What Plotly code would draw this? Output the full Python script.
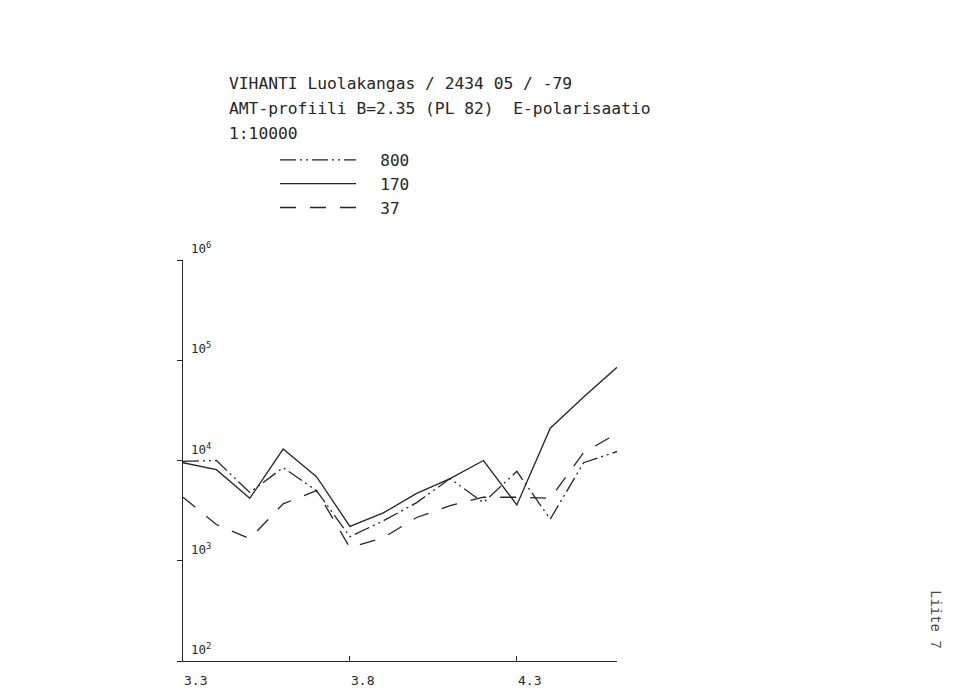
import plotly.graph_objects as go

# Positions along the profile (x axis units as printed on the chart)
x_vals = [3.3, 3.4, 3.5, 3.6, 3.7, 3.8, 3.9, 4.0, 4.1, 4.2, 4.3, 4.4, 4.5, 4.6]

# Apparent resistivity values (ohm-m), per frequency
rho_800 = [9800, 10000, 4800, 8500, 5000, 1740, 2500, 3800, 6600, 3800, 7800, 2600, 9500, 12300]
rho_170 = [9500, 8100, 4200, 13000, 6900, 2200, 3000, 4700, 6600, 10000, 3600, 21000, 43000, 85000]
rho_37 = [4300, 2300, 1660, 3700, 5000, 1350, 1700, 2700, 3550, 4300, 4300, 4200, 12000, 18600]

series_names = ["800", "170", "37"]

x_tick_vals = [3.3, 3.8, 4.3]
x_tick_text = ["3.3", "3.8", "4.3"]
y_tick_exps = [2, 3, 4, 5, 6]
y_tick_text = ["10<sup>2</sup>", "10<sup>3</sup>", "10<sup>4</sup>", "10<sup>5</sup>", "10<sup>6</sup>"]

title_lines = [
    "VIHANTI Luolakangas / 2434 05 / -79",
    "AMT-profiili B=2.35 (PL 82)  E-polarisaatio",
    "1:10000",
]

INK = "#262626"
MONO = "DejaVu Sans Mono"

# page body has an 8px margin, so the plot box is offset accordingly
PL, PT, PW, PH = 183, 260, 434, 401   # target screen box of the plot area


def px_to_paper_x(px):
    return (px - PL) / PW


def py_to_paper_y(py):
    return 1 + (PT - py) / PH


fig = go.Figure()
dashes = ["16px,4px,2px,4px,2px,4px", "solid", "16px,14px"]
for name, ys, dash in zip(series_names, [rho_800, rho_170, rho_37], dashes):
    fig.add_trace(go.Scatter(
        x=x_vals, y=ys, mode="lines", name="  " + name, legendgroup=name,
        line=dict(color=INK, width=1.3, dash=dash),
    ))

fig.update_layout(
    width=959, height=693,
    margin=dict(l=PL - 8, r=959 - PL - PW + 8, t=PT - 8, b=693 - PT - PH + 8, autoexpand=False),
    paper_bgcolor="white", plot_bgcolor="white",
    font=dict(family=MONO, color=INK),
    showlegend=True,
    legend=dict(
        x=px_to_paper_x(275), y=py_to_paper_y(143), xanchor="left", yanchor="top",
        font=dict(family=MONO, size=16, color=INK),
        itemwidth=76, tracegroupgap=3, bgcolor="rgba(0,0,0,0)",
        traceorder="normal",
    ),
    xaxis=dict(
        range=[3.3, 4.6], showgrid=False, zeroline=False,
        showline=True, linecolor=INK, linewidth=1.2,
        tickvals=x_tick_vals, showticklabels=False,
        ticks="inside", ticklen=5, tickcolor=INK, tickwidth=1.2,
    ),
    yaxis=dict(
        type="log", range=[2, 6], showgrid=False, zeroline=False,
        showline=True, linecolor=INK, linewidth=1.2,
        tickvals=[10 ** e for e in y_tick_exps], showticklabels=False,
        ticks="outside", ticklen=5, tickcolor=INK, tickwidth=1.2,
    ),
)

# x tick labels: left-aligned at the tick, below the axis
for v, t in zip(x_tick_vals, x_tick_text):
    fig.add_annotation(
        text=t, xref="x", yref="paper", x=v, y=0, xanchor="left", yanchor="middle",
        yshift=-19, xshift=-1, showarrow=False,
        font=dict(family=MONO, size=13, color=INK),
    )

# y tick labels: inside the plot, just above each decade tick
for e, t in zip(y_tick_exps, y_tick_text):
    fig.add_annotation(
        text=t, xref="paper", yref="y", x=px_to_paper_x(189), y=e,
        xanchor="left", yanchor="bottom", yshift=2, showarrow=False,
        font=dict(family=MONO, size=12.5, color=INK),
    )

for i, line in enumerate(title_lines):
    fig.add_annotation(
        text=line, xref="paper", yref="paper",
        x=px_to_paper_x(227), y=py_to_paper_y(83 + 25 * i),
        xanchor="left", yanchor="middle", showarrow=False,
        font=dict(family=MONO, size=16.3, color=INK),
    )

fig.add_annotation(
    text="Liite 7", xref="paper", yref="paper",
    x=px_to_paper_x(935), y=py_to_paper_y(619),
    xanchor="center", yanchor="middle", showarrow=False, textangle=90,
    font=dict(family="Liberation Mono", size=14, color="#444"),
)

fig.write_html("out.html")
